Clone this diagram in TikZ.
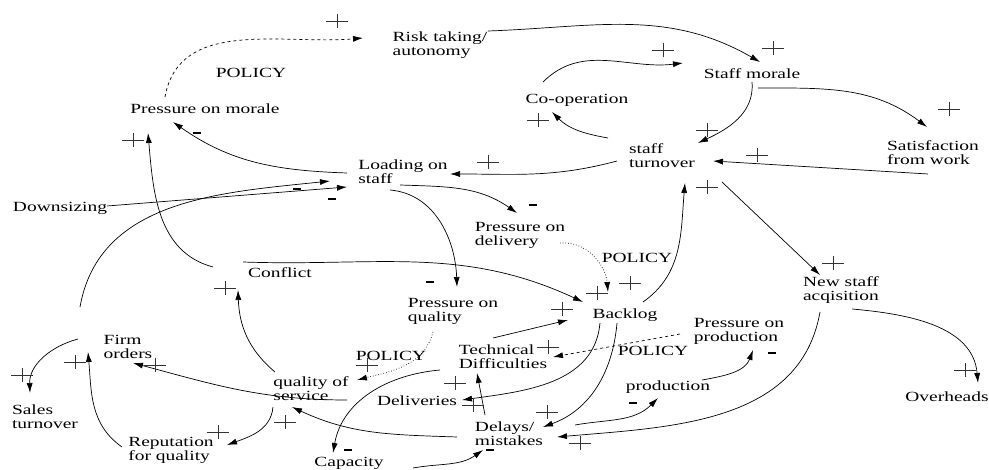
\documentclass[tikz,border=0pt]{standalone}
\usepackage{fontspec}
\setmainfont[FakeStretch=1.39]{Liberation Serif}
\usetikzlibrary{arrows.meta,calc}

\begin{document}
\begin{tikzpicture}[x=1pt,y=1pt,
    var/.style={align=left,inner sep=1pt,font=\fontsize{14}{14}\selectfont},
    link/.style={-{Latex[length=10pt,width=6pt]},line width=0.7pt},
    plus/.style={inner sep=0pt,minimum width=22pt,minimum height=14pt,
        path picture={\draw[line width=0.8pt,black!80]
            (path picture bounding box.north) -- (path picture bounding box.south)
            (path picture bounding box.west) -- (path picture bounding box.east);}},
    minus/.style={fill=black,inner sep=0pt,minimum width=8pt,minimum height=2.6pt}]

    \useasboundingbox (0,0) rectangle (989,-470);
    \fill[white] (0,0) rectangle (989,-470);

    % variables
    \node[var] (risk) at (440,-45) {Risk taking/\\autonomy};
    \node[var] (morale) at (752,-74) {Staff morale};
    \node[var] (coop) at (577,-100) {Co-operation};
    \node[var] (pmorale) at (205,-109) {Pressure on morale};
    \node[var] (turnover) at (662,-156) {staff\\turnover};
    \node[var] (satisf) at (933,-153) {Satisfaction\\from work};
    \node[var] (loading) at (403,-172) {Loading on\\staff};
    \node[var] (downs) at (60,-208) {Downsizing};
    \node[var] (pdeliv) at (520,-235) {Pressure on\\delivery};
    \node[var] (conflict) at (280,-273) {Conflict};
    \node[var] (pquality) at (453,-311) {Pressure on\\quality};
    \node[var] (firm) at (128,-347) {Firm\\orders};
    \node[var] (sales) at (45,-417) {Sales\\turnover};
    \node[var] (qos) at (311,-389) {quality of\\service};
    \node[var] (reput) at (171,-450) {Reputation\\for quality};
    \node[var] (capacity) at (349,-463) {Capacity};
    \node[var] (tech) at (503,-357) {Technical\\Difficulties};
    \node[var] (deliv) at (417,-401) {Deliveries};
    \node[var] (delays) at (509,-434) {Delays/\\mistakes};
    \node[var] (backlog) at (625,-315) {Backlog};
    \node[var] (pprod) at (739,-331) {Pressure on\\production};
    \node[var] (prod) at (668,-387) {production};
    \node[var] (newstaff) at (841,-290) {New staff\\acqisition};
    \node[var] (overheads) at (947,-397) {Overheads};

    % policy labels
    \node[var] (pol1) at (251,-73) {POLICY};
    \node[var] (pol2) at (637,-258) {POLICY};
    \node[var] (pol3) at (391,-356) {POLICY};
    \node[var] (pol4) at (653,-351) {POLICY};

    % links
    \draw[link,dashed] ($(pmorale)+(-40,12)$) to[out=80,in=185] ($(risk)+(-77,7)$);
    \draw[link] ($(risk)+(48,14)$) to[out=2,in=150] ($(morale)+(8,12)$);
    \draw[link] ($(coop)+(-34,18)$) to[out=45,in=187] ($(morale)+(-69,11)$);
    \draw[link] ($(turnover)+(-54,18)$) to[out=170,in=-45] ($(coop)+(-25,-12)$);
    \draw[link] ($(morale)+(0,-8)$) to[out=-85,in=25] ($(turnover)+(36,13)$);
    \draw[link] ($(morale)+(6,-14)$) to[out=0,in=143] ($(satisf)+(-6,26)$);
    \draw[link] ($(satisf)+(-5,-21)$) -- ($(turnover)+(51,-5)$);
    \draw[link] ($(turnover)+(-45,-5)$) to[out=195,in=0] ($(loading)+(47,-2)$);
    \draw[link] ($(loading)+(-56,-1)$) to[out=178,in=-35] ($(pmorale)+(-32,-13)$);
    \draw[link] ($(downs)+(47,2)$) -- ($(loading)+(-56,-15)$);
    \draw[link] ($(firm)+(-48,40)$) to[out=80,in=186] ($(loading)+(-73,-9)$);
    \draw[link] ($(conflict)+(-67,6)$) to[out=165,in=-85] ($(pmorale)+(-57,-24)$);
    \draw[link] ($(conflict)+(-37,11)$) to[out=-2,in=155] ($(backlog)+(-42,13)$);
    \draw[link] ($(loading)+(-3,-13)$) to[out=-2,in=145] ($(pdeliv)+(-3,22)$);
    \draw[link] ($(loading)+(-13,-18)$) to[out=-5,in=92] ($(pquality)+(4,24)$);
    \draw[link,dotted] ($(pdeliv)+(40,-8)$) to[out=5,in=95] ($(backlog)+(-17,23)$);
    \draw[link] ($(backlog)+(18,13)$) to[out=35,in=-95] ($(turnover)+(23,-27)$);
    \draw[link] ($(turnover)+(60,-26)$) -- ($(newstaff)+(-21,15)$);
    \draw[link] ($(newstaff)+(11,-19)$) to[out=-5,in=95] ($(overheads)+(31,14)$);
    \draw[link] ($(newstaff)+(-21,-22)$) to[out=-100,in=5] ($(delays)+(48,-3)$);
    \draw[link] ($(backlog)+(-8,-8)$) to[out=-95,in=20] ($(delays)+(34,7)$);
    \draw[link] ($(backlog)+(-25,-8)$) to[out=-95,in=8] ($(deliv)+(45,1)$);
    \draw[link,dashed] ($(pprod)+(-59,-3)$) -- ($(tech)+(50,0)$);
    \draw[link] ($(delays)+(66,9)$) to[out=10,in=-135] ($(prod)+(-10,-11)$);
    \draw[link] ($(prod)+(34,7)$) to[out=10,in=-110] ($(pprod)+(14,-19)$);
    \draw[link] ($(delays)+(-24,19)$) -- ($(tech)+(-26,-16)$);
    \draw[link] ($(tech)+(-10,19)$) -- ($(backlog)+(-57,-5)$);
    \draw[link] ($(delays)+(-52,-3)$) to[out=178,in=-25] ($(qos)+(-19,-18)$);
    \draw[link] ($(qos)+(36,-11)$) to[out=180,in=-15] ($(firm)+(5,-16)$);
    \draw[link] ($(qos)+(-36,17)$) to[out=140,in=-88] ($(conflict)+(-42,-17)$);
    \draw[link] ($(qos)+(-38,-18)$) to[out=-95,in=20] ($(reput)+(56,5)$);
    \draw[link] ($(reput)+(-49,3)$) to[out=145,in=-85] ($(firm)+(-40,-5)$);
    \draw[link] ($(firm)+(-50,8)$) to[out=195,in=92] ($(sales)+(-15,24)$);
    \draw[link,dotted] ($(pquality)+(-20,-21)$) to[out=-105,in=14] ($(qos)+(46,9)$);
    \draw[link] ($(tech)+(-63,-13)$) to[out=185,in=80] ($(capacity)+(-16,10)$);
    \draw[link] ($(capacity)+(64,-5)$) to[out=10,in=-145] ($(delays)+(-26,-16)$);

    % signs
    \foreach \px/\py [count=\i] in {337/-21, 773/-48, 663/-50, 538/-120, 707/-130,
        949/-109, 757/-155, 488/-162, 133/-140, 597/-293, 630/-283, 562/-309,
        707/-187, 833/-263, 965/-370, 580/-443, 547/-412, 455/-383, 548/-347,
        473/-405, 285/-422, 155/-365, 225/-288, 218/-432, 75/-362, 22/-375, 367/-365}
        \node[plus] (plus\i) at (\px,\py) {};
    \foreach \px/\py [count=\i] in {197/-133, 332/-199, 297/-189, 533/-205, 430/-282,
        633/-403, 772/-353, 348/-450, 490/-450}
        \node[minus] (minus\i) at (\px,\py) {};
\end{tikzpicture}
\end{document}
